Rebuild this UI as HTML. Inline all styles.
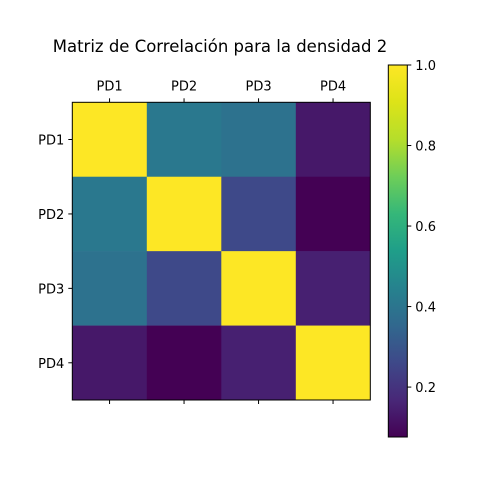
<!DOCTYPE html>
<html><head><meta charset="utf-8"><style>
body{margin:0;background:#fff;}
svg text{font-family:"DejaVu Sans","Liberation Sans",sans-serif;fill:#000;}
</style></head><body>
<svg id="chart" width="480" height="480" viewBox="0 0 480 480">
<defs><linearGradient id="vir" x1="0" y1="1" x2="0" y2="0">
<stop offset="0" stop-color="#440154"/><stop offset="0.1" stop-color="#482878"/><stop offset="0.2" stop-color="#3e4989"/><stop offset="0.3" stop-color="#31688e"/><stop offset="0.4" stop-color="#26828e"/><stop offset="0.5" stop-color="#1f9e89"/><stop offset="0.6" stop-color="#35b779"/><stop offset="0.7" stop-color="#6ece58"/><stop offset="0.8" stop-color="#b5de2b"/><stop offset="0.9" stop-color="#dde318"/><stop offset="1" stop-color="#fde725"/>
</linearGradient></defs>
<text x="220" y="52" font-size="16.5" text-anchor="middle">Matriz de Correlación para la densidad 2</text>
<g id="cells"></g><g id="axes"></g>
</svg>
<script>
const labels = ["PD1","PD2","PD3","PD4"];
const row1 = [1.0, 0.41, 0.39, 0.13];
const row2 = [0.41, 1.0, 0.26, 0.076];
const row3 = [0.39, 0.26, 1.0, 0.15];
const row4 = [0.13, 0.076, 0.15, 1.0];
const cbTicks = [0.2, 0.4, 0.6, 0.8, 1.0];
const matrix = [row1,row2,row3,row4];
const vmin = Math.min(...matrix.flat()), vmax = Math.max(...matrix.flat());
const stops=["#440154","#482878","#3e4989","#31688e","#26828e","#1f9e89","#35b779","#6ece58","#b5de2b","#dde318","#fde725"];
function hex(h){return [1,3,5].map(i=>parseInt(h.substr(i,2),16));}
function viridis(t){t=Math.max(0,Math.min(1,t));const p=t*10,i=Math.min(9,Math.floor(p)),f=p-i;const a=hex(stops[i]),b=hex(stops[i+1]);return "rgb("+a.map((v,k)=>Math.round(v+(b[k]-v)*f)).join(",")+")";}
const X0=72.3,X1=370.3,Y0=102.3,Y1=400;
const n=labels.length, cw=(X1-X0)/n, ch=(Y1-Y0)/n;
const xs=i=>X0+i*cw, ys=j=>Y0+j*ch;
const CBX=388.3,CBW=19,CBY0=65,CBY1=437;
const cby=v=>CBY1-(v-vmin)/(vmax-vmin)*(CBY1-CBY0);
const NS="http://www.w3.org/2000/svg";
const cells=document.getElementById('cells'), axes=document.getElementById('axes');
function mk(tag,attrs,parent,txt){const e=document.createElementNS(NS,tag);for(const k in attrs)e.setAttribute(k,attrs[k]);if(txt!==undefined)e.textContent=txt;parent.appendChild(e);return e;}
matrix.forEach((row,j)=>row.forEach((v,i)=>{
  const r=mk('rect',{x:xs(i),y:ys(j),width:cw+0.3,height:ch+0.3,fill:viridis((v-vmin)/(vmax-vmin))},cells);
  
  
}));
const fr=mk('rect',{x:X0,y:Y0,width:X1-X0,height:Y1-Y0,fill:'none',stroke:'#000','stroke-width':1},axes);


labels.forEach((l,i)=>{
  const cx=xs(i)+cw/2, cy=ys(i)+ch/2;
  mk('line',{x1:cx,x2:cx,y1:Y0,y2:Y0-4,stroke:'#000'},axes);
  mk('line',{x1:cx,x2:cx,y1:Y1,y2:Y1+4,stroke:'#000'},axes);
  mk('line',{x1:X0,x2:X0-4,y1:cy,y2:cy,stroke:'#000'},axes);
  const t=mk('text',{x:cx,y:Y0-12,'font-size':13,'text-anchor':'middle'},axes,l);
  
  
  const t2=mk('text',{x:X0-8,y:cy+5,'font-size':13,'text-anchor':'end'},axes,l);
  
  
});
const cb=mk('rect',{x:CBX,y:CBY0,width:CBW,height:CBY1-CBY0,fill:'url(#vir)',stroke:'#000','stroke-width':1},axes);


cbTicks.forEach(v=>{
  const y=cby(v);
  mk('line',{x1:CBX+CBW,x2:CBX+CBW+4,y1:y,y2:y,stroke:'#000'},axes);
  const t=mk('text',{x:CBX+CBW+8,y:y+5,'font-size':13},axes,v.toFixed(1));
  
  
});
</script>
</body></html>
